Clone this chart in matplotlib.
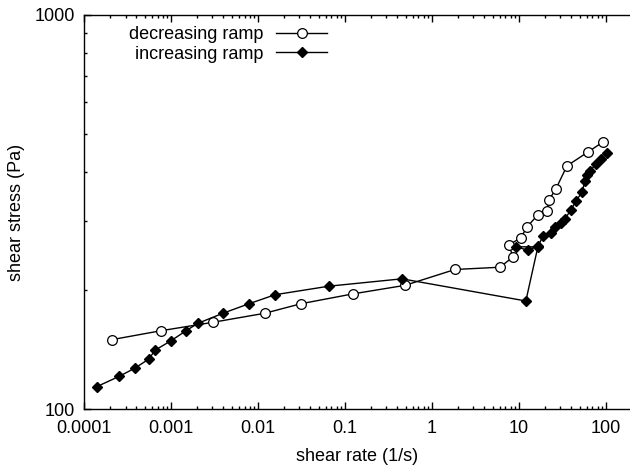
import matplotlib
matplotlib.use("Agg")
import matplotlib.pyplot as plt
from matplotlib.ticker import LogLocator, FixedLocator, FixedFormatter, NullFormatter

plt.rcParams['font.family'] = ['Liberation Sans', 'DejaVu Sans']

# decreasing ramp (open circles)
dec_rate = [92.4, 62.1, 35.6, 26.6, 22.1, 21.0, 16.5, 12.4, 10.5, 7.7, 8.5, 6.05,
            1.84, 0.49, 0.124, 0.0312, 0.0120, 0.00304, 0.000767, 0.000210]
dec_stress = [476, 449, 414, 362, 339, 318, 311, 290, 272, 261, 243, 229,
              226, 206, 196, 185, 175, 166, 158, 150]

# increasing ramp (filled diamonds)
inc_rate = [0.000141, 0.000253, 0.000386, 0.000559, 0.000655, 0.001, 0.00149,
            0.00204, 0.00396, 0.00788, 0.0157, 0.0655, 0.452, 12.0, 16.5,
            9.24, 12.7, 16.6, 18.9, 23.3, 25.9, 30.4, 33.8, 39.6, 45.2, 53.0,
            57.4, 60.5, 65.5, 76.8, 87.7, 102.6]
inc_stress = [114, 121, 127, 134, 141, 149, 158, 165, 175, 185, 195, 205, 214,
              188, 258, 258, 253, 259, 275, 280, 290, 297, 304, 320, 337, 355,
              379, 392, 402, 419, 431, 446]

x_ticks = [0.0001, 0.001, 0.01, 0.1, 1, 10, 100]
x_ticklabels = ['0.0001', '0.001', '0.01', '0.1', '1', '10', '100']
y_ticks = [100, 1000]
y_ticklabels = ['100', '1000']

FS = 13

fig = plt.figure(figsize=(6.3, 4.67), dpi=100)
ax = fig.add_axes([84/630, 1 - 409/467, 1 - 84/630, (409 - 15)/467])

ax.plot(dec_rate, dec_stress, color='black', lw=1.0, marker='o', ms=7,
        mfc='white', mec='black', mew=0.9, label='decreasing ramp')
ax.plot(inc_rate, inc_stress, color='black', lw=1.0, marker='D', ms=5,
        mfc='black', mec='black', label='increasing ramp')

ax.set_xscale('log')
ax.set_yscale('log')
ax.set_xlim(0.0001, 189)
ax.set_ylim(100, 1000)

ax.xaxis.set_major_locator(FixedLocator(x_ticks))
ax.xaxis.set_major_formatter(FixedFormatter(x_ticklabels))
ax.xaxis.set_minor_locator(LogLocator(base=10, subs=range(2, 10), numticks=20))
ax.xaxis.set_minor_formatter(NullFormatter())
ax.yaxis.set_major_locator(FixedLocator(y_ticks))
ax.yaxis.set_major_formatter(FixedFormatter(y_ticklabels))
ax.yaxis.set_minor_locator(LogLocator(base=10, subs=range(2, 10), numticks=20))
ax.yaxis.set_minor_formatter(NullFormatter())

ax.tick_params(which='both', direction='in', top=True, right=False,
               labelsize=FS, colors='black', width=1.0)
ax.tick_params(which='major', length=5)
ax.tick_params(which='minor', length=2.5)
ax.tick_params(axis='x', which='major', pad=8)
ax.tick_params(axis='y', which='major', pad=6.5)
ax.spines['right'].set_visible(False)
for s in ['left', 'bottom', 'top']:
    ax.spines[s].set_linewidth(1.0)

ax.set_xlabel('shear rate (1/s)', fontsize=FS, labelpad=8)
ax.set_ylabel('shear stress (Pa)', fontsize=FS, labelpad=7)

leg = ax.legend(loc='upper right', bbox_to_anchor=((327 - 84)/546, 0.971),
                markerfirst=False, frameon=False, fontsize=FS,
                handlelength=2.8, handletextpad=0.7, labelspacing=0.12,
                borderpad=0, borderaxespad=0)

fig.savefig('out.png', dpi=100)
